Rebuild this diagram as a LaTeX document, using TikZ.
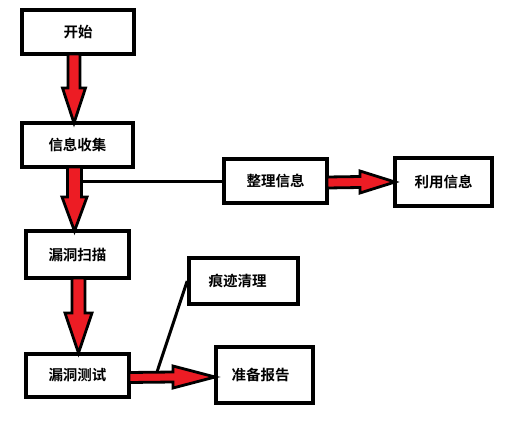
\documentclass[tikz,border=0pt]{standalone}
\usepackage{fontspec}
\newfontfamily\cjkbold{Noto Sans CJK SC Bold}
\usetikzlibrary{calc}
\definecolor{arrred}{HTML}{ED1C24}
\tikzset{
  box/.style={draw=black, line width=3.6pt, fill=white, inner sep=0pt, font=\cjkbold\fontsize{14.5}{16}\selectfont},
  blockarrow/.style={draw=black, line width=2.8pt, fill=arrred, line join=miter},
  link/.style={draw=black, line width=3pt}
}
\newcommand{\vblock}[5]{% start, tip, shaft half, head half, head length
  \draw[blockarrow] ($(#1)+(-#3,0)$) -- ($(#2)+(-#3,-#5)$) -- ($(#2)+(-#4,-#5)$) -- (#2)
    -- ($(#2)+(#4,-#5)$) -- ($(#2)+(#3,-#5)$) -- ($(#1)+(#3,0)$) -- cycle;}
\newcommand{\hblock}[5]{%
  \draw[blockarrow] ($(#1)+(0,-#3)$) -- ($(#2)+(-#5,-#3)$) -- ($(#2)+(-#5,-#4)$) -- (#2)
    -- ($(#2)+(-#5,#4)$) -- ($(#2)+(-#5,#3)$) -- ($(#1)+(0,#3)$) -- cycle;}
\begin{document}
\begin{tikzpicture}[x=1pt,y=-1pt]
\useasboundingbox (0,0) rectangle (517,421);
\fill[white] (0,0) rectangle (517,421);
% boxes
\node[box, minimum width=112pt, minimum height=44pt] (start) at (78,32) {开始};
\node[box, minimum width=111pt, minimum height=44pt] (info) at (77.5,145) {信息收集};
\node[box, minimum width=103pt, minimum height=47pt] (scan) at (77.5,254.5) {漏洞扫描};
\node[box, minimum width=103pt, minimum height=43pt] (test) at (77.5,375.5) {漏洞测试};
\node[box, minimum width=103pt, minimum height=44pt] (sort) at (275.5,181) {整理信息};
\node[box, minimum width=97pt, minimum height=48pt] (use) at (443.5,182) {利用信息};
\node[box, minimum width=109pt, minimum height=46pt] (clean) at (243.5,281) {痕迹清理\hspace*{12pt}};
\node[box, minimum width=97pt, minimum height=56pt] (report) at (264.5,375) {准备报告\hspace*{8pt}};
% connector lines
\coordinate (j1) at (82,181);
\draw[link] (j1) -- (sort.west |- j1);
\coordinate (j2) at (157,372);
\draw[link] (j2) -- (clean.west);
% block arrows
\coordinate (a1s) at (74,54);
\coordinate (a1t) at (74,123);
\vblock{a1s}{a1t}{6}{11.5}{35}
\coordinate (a2s) at (74.5,167);
\coordinate (a2t) at (74.5,231);
\vblock{a2s}{a2t}{7}{12.5}{34}
\coordinate (a3s) at (78.5,278);
\coordinate (a3t) at (78.5,353);
\vblock{a3s}{a3t}{6.5}{13.5}{40}
\coordinate (a4s) at (129,377.5);
\coordinate (a4t) at (215,377);
\hblock{a4s}{a4t}{5}{11}{42}
\coordinate (a5s) at (327,182.5);
\coordinate (a5t) at (395,182);
\hblock{a5s}{a5t}{5.5}{11}{35}
\end{tikzpicture}
\end{document}
